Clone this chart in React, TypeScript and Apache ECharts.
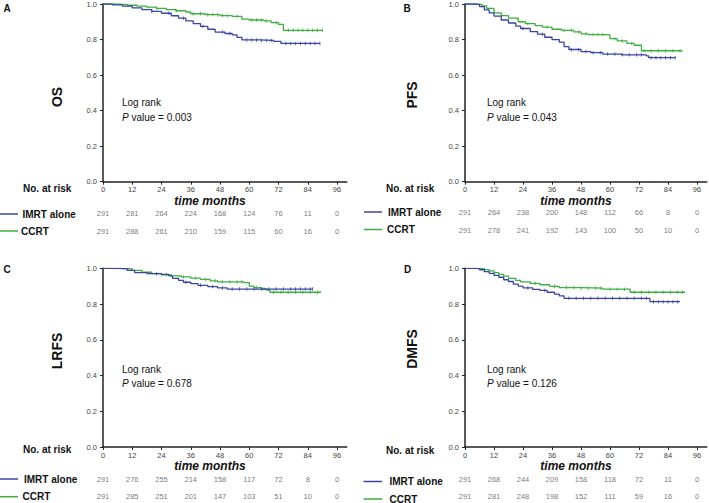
import React, { useEffect, useRef } from "react";
import * as echarts from "echarts";

const FONT = '"Liberation Sans", Arial, sans-serif';
const BLUE = "#3a45a2";
const GREEN = "#3dae3f";

// time axis ticks (months)
const months = [0, 12, 24, 36, 48, 60, 72, 84, 96];

// Kaplan-Meier step points [month, survival]
const osImrt = [[0, 1], [4, 0.995], [8, 0.988], [12, 0.978], [16, 0.968], [20, 0.958], [24, 0.948], [28, 0.934], [31, 0.92], [34, 0.905], [37, 0.89], [40, 0.874], [43, 0.858], [46, 0.842], [50, 0.834], [53, 0.826], [55, 0.812], [57, 0.798], [64, 0.795], [70, 0.79], [73, 0.778], [89, 0.778]];
const osCcrt = [[0, 1], [6, 0.997], [10, 0.993], [14, 0.988], [18, 0.982], [22, 0.975], [26, 0.968], [30, 0.962], [34, 0.955], [36, 0.945], [42, 0.94], [48, 0.935], [53, 0.93], [57, 0.915], [60, 0.91], [66, 0.905], [69, 0.895], [72, 0.885], [74, 0.852], [90, 0.852]];
const pfsImrt = [[0, 1], [4, 0.998], [6, 0.985], [8, 0.967], [10, 0.95], [12, 0.932], [15, 0.91], [18, 0.893], [21, 0.875], [23, 0.862], [27, 0.845], [30, 0.83], [33, 0.813], [36, 0.8], [39, 0.785], [41, 0.76], [43, 0.744], [48, 0.732], [52, 0.726], [57, 0.718], [65, 0.714], [75, 0.708], [76, 0.698], [87, 0.698]];
const pfsCcrt = [[0, 1], [4, 0.998], [7, 0.99], [9, 0.975], [12, 0.95], [15, 0.935], [18, 0.92], [22, 0.9], [25, 0.89], [29, 0.878], [32, 0.87], [36, 0.858], [40, 0.852], [45, 0.843], [48, 0.832], [51, 0.828], [58, 0.826], [60, 0.805], [63, 0.792], [67, 0.778], [70, 0.768], [73, 0.737], [90, 0.737]];
const lrfsImrt = [[0, 1], [6, 0.997], [10, 0.988], [13, 0.976], [18, 0.97], [24, 0.966], [27, 0.958], [28.5, 0.944], [31, 0.932], [33, 0.922], [36, 0.914], [39, 0.905], [43, 0.898], [47, 0.89], [51, 0.884], [86, 0.884]];
const lrfsCcrt = [[0, 1], [8, 0.997], [12, 0.988], [16, 0.978], [20, 0.97], [24, 0.964], [28, 0.958], [32, 0.952], [36, 0.945], [40, 0.938], [44, 0.93], [47, 0.924], [58, 0.92], [60, 0.9], [62, 0.892], [65, 0.886], [67, 0.878], [68.5, 0.866], [89.5, 0.866]];
const dmfsImrt = [[0, 1], [4, 0.998], [6, 0.992], [8, 0.981], [10, 0.972], [12, 0.96], [14, 0.95], [16, 0.936], [18, 0.926], [20, 0.912], [22, 0.9], [24, 0.89], [28, 0.882], [31, 0.876], [34, 0.866], [37, 0.856], [39, 0.846], [41, 0.832], [76.5, 0.813], [89, 0.813]];
const dmfsCcrt = [[0, 1], [5, 0.998], [8, 0.993], [10, 0.986], [12, 0.976], [14, 0.966], [16, 0.956], [18, 0.944], [21, 0.932], [23, 0.924], [27, 0.916], [31, 0.908], [35, 0.899], [39, 0.892], [48, 0.889], [57, 0.883], [68.3, 0.866], [91, 0.866]];

// censoring times (months)
const osImrtCens = [20, 27, 33, 41, 49, 52, 59, 61, 63, 65, 67, 69, 75, 77, 79, 81, 83, 85, 87, 89];
const osCcrtCens = [22, 30, 37, 40, 43, 45, 47, 49, 51, 55, 61, 63, 65, 67, 71, 76, 78, 80, 82, 84, 86, 88, 90];
const pfsImrtCens = [24, 32, 44, 47, 50, 53, 56, 59, 62, 65, 68, 71, 73, 77, 79, 81, 83, 85, 87];
const pfsCcrtCens = [26, 34, 41, 44, 47, 50, 53, 55, 57, 62, 65, 69, 74, 77, 80, 83, 86, 89];
const lrfsImrtCens = [22, 34, 40, 45, 49, 53, 56, 59, 62, 65, 68, 71, 74, 77, 79, 81, 83, 85, 86];
const lrfsCcrtCens = [26, 33, 38, 42, 46, 49, 52, 55, 57, 63, 66, 70, 73, 76, 79, 82, 85, 88];
const dmfsImrtCens = [26, 33, 43, 46, 49, 52, 55, 58, 61, 64, 67, 70, 73, 75, 78, 80, 82, 84, 86, 88];
const dmfsCcrtCens = [29, 37, 42, 45, 48, 51, 54, 56, 60, 63, 66, 70, 73, 76, 79, 82, 85, 88, 90];

// number at risk
const riskOsImrt = [291, 281, 264, 224, 168, 124, 76, 11, 0];
const riskOsCcrt = [291, 288, 261, 210, 159, 115, 60, 16, 0];
const riskPfsImrt = [291, 264, 238, 200, 148, 112, 66, 8, 0];
const riskPfsCcrt = [291, 278, 241, 192, 143, 100, 50, 10, 0];
const riskLrfsImrt = [291, 276, 255, 214, 158, 117, 72, 8, 0];
const riskLrfsCcrt = [291, 285, 251, 201, 147, 103, 51, 10, 0];
const riskDmfsImrt = [291, 268, 244, 209, 158, 118, 72, 11, 0];
const riskDmfsCcrt = [291, 281, 248, 198, 152, 111, 59, 16, 0];

const letters = ["A", "B", "C", "D"];
const endpoints = ["OS", "PFS", "LRFS", "DMFS"];
const pValues = ["0.003", "0.043", "0.678", "0.126"];
const groupNames = ["IMRT alone", "CCRT"];

const curves = [
  [osImrt, osCcrt],
  [pfsImrt, pfsCcrt],
  [lrfsImrt, lrfsCcrt],
  [dmfsImrt, dmfsCcrt],
];
const censors = [
  [osImrtCens, osCcrtCens],
  [pfsImrtCens, pfsCcrtCens],
  [lrfsImrtCens, lrfsCcrtCens],
  [dmfsImrtCens, dmfsCcrtCens],
];
const risks = [
  [riskOsImrt, riskOsCcrt],
  [riskPfsImrt, riskPfsCcrt],
  [riskLrfsImrt, riskLrfsCcrt],
  [riskDmfsImrt, riskDmfsCcrt],
];

// layout (pixels)
const LAYOUT = [
  { left: 103, top: 2.5, width: 243.75, height: 179.2, tTop: 213.3, tGap: 17.7, letter: [7, 8], yl: [57, 97], lr: [122, 102], pv: [122, 117], tm: [210, 200.5], nr: [23, 188], legLine: [0, 18], legText: [22.5, 21], legY: [214, 231] },
  { left: 465, top: 2.5, width: 241.7, height: 179.2, tTop: 212.7, tGap: 18, letter: [407, 8], yl: [412, 95], lr: [487, 102], pv: [487, 117], tm: [576, 200.5], nr: [386, 188], legLine: [364, 382], legText: [388, 387], legY: [212, 229.5] },
  { left: 103, top: 268.3, width: 243.75, height: 178.7, tTop: 479, tGap: 17.7, letter: [7, 269], yl: [57, 351], lr: [122, 369], pv: [122, 383.5], tm: [210, 465.5], nr: [23, 449.5], legLine: [0, 18], legText: [24, 22.5], legY: [479, 496.7] },
  { left: 465, top: 268.3, width: 241.7, height: 178.7, tTop: 479, tGap: 17.7, letter: [407.5, 269.5], yl: [412, 349], lr: [487, 369], pv: [487, 383.5], tm: [576, 465.5], nr: [386, 450], legLine: [363.5, 382], legText: [389.5, 389.5], legY: [481.5, 499] },
];

function sAt(curve: number[][], t: number) {
  let s = curve[0][1];
  for (const p of curve) {
    if (p[0] <= t) s = p[1];
  }
  return s;
}

function buildOption() {
  const grid: any[] = [];
  const xAxis: any[] = [];
  const yAxis: any[] = [];
  const series: any[] = [];
  const graphic: any[] = [];
  const colors = [BLUE, GREEN];

  LAYOUT.forEach((L, i) => {
    const gp = 2 * i;
    const gt = 2 * i + 1;
    grid.push({ left: L.left, top: L.top, width: L.width, height: L.height });
    grid.push({ left: L.left, top: L.tTop, width: L.width, height: L.tGap });
    xAxis.push({
      type: "value",
      gridIndex: gp,
      min: 0,
      max: 100,
      splitLine: { show: false },
      axisLine: { show: true, lineStyle: { color: "#222", width: 1.5 } },
      axisTick: { show: true, customValues: months, length: 3, lineStyle: { color: "#222", width: 1 } },
      axisLabel: { customValues: months, fontSize: 7.5, color: "#444", fontFamily: FONT, margin: 4 },
    });
    xAxis.push({ type: "value", gridIndex: gt, min: 0, max: 100, show: false });
    yAxis.push({
      type: "value",
      gridIndex: gp,
      min: 0,
      max: 1,
      interval: 0.2,
      splitLine: { show: false },
      axisLine: { show: true, lineStyle: { color: "#222", width: 1.5 } },
      axisTick: { show: true, length: 3, lineStyle: { color: "#222", width: 1 } },
      axisLabel: { formatter: (v: number) => v.toFixed(1), fontSize: 7.5, color: "#444", fontFamily: FONT, margin: 6 },
    });
    yAxis.push({ type: "value", gridIndex: gt, min: 0, max: 1, inverse: true, show: false });

    [0, 1].forEach((g) => {
      const curve = curves[i][g];
      series.push({
        type: "line",
        xAxisIndex: gp,
        yAxisIndex: gp,
        data: curve,
        step: "end",
        symbol: "none",
        silent: true,
        lineStyle: { color: colors[g], width: 1.3 },
        z: 3 - g,
      });
      series.push({
        type: "scatter",
        xAxisIndex: gp,
        yAxisIndex: gp,
        data: censors[i][g].map((t) => [t, sAt(curve, t)]),
        symbol: "rect",
        symbolSize: [1, 3.5],
        silent: true,
        itemStyle: { color: colors[g] },
        z: 3 - g,
      });
      series.push({
        type: "scatter",
        xAxisIndex: gt,
        yAxisIndex: gt,
        data: months.map((m, k) => [m, g, risks[i][g][k]]),
        symbol: "circle",
        symbolSize: 1,
        silent: true,
        itemStyle: { color: "transparent" },
        label: {
          show: true,
          position: "inside",
          formatter: (p: any) => String(p.value[2]),
          fontSize: 7.5,
          color: "#555",
          fontFamily: FONT,
        },
      });
      graphic.push({
        type: "line",
        shape: { x1: L.legLine[0], y1: L.legY[g], x2: L.legLine[1], y2: L.legY[g] },
        style: { stroke: colors[g], lineWidth: 1.5 },
        silent: true,
      });
      graphic.push({
        type: "text",
        x: L.legText[g],
        y: L.legY[g],
        style: { text: groupNames[g], font: `bold 10px ${FONT}`, fill: "#111", verticalAlign: "middle", align: "left" },
        silent: true,
      });
    });

    graphic.push({
      type: "text",
      x: L.letter[0],
      y: L.letter[1],
      style: { text: letters[i], font: `bold 10px ${FONT}`, fill: "#111", align: "center", verticalAlign: "middle" },
      silent: true,
    });
    graphic.push({
      type: "text",
      x: L.yl[0],
      y: L.yl[1],
      rotation: Math.PI / 2,
      style: { text: endpoints[i], font: `bold 14px ${FONT}`, fill: "#111", align: "center", verticalAlign: "middle" },
      silent: true,
    });
    graphic.push({
      type: "text",
      x: L.lr[0],
      y: L.lr[1],
      style: { text: "Log rank", font: `10px ${FONT}`, fill: "#111", align: "left", verticalAlign: "middle" },
      silent: true,
    });
    graphic.push({
      type: "text",
      x: L.pv[0],
      y: L.pv[1],
      style: {
        text: `{i|P} value = ${pValues[i]}`,
        font: `10px ${FONT}`,
        fill: "#111",
        align: "left",
        verticalAlign: "middle",
        rich: { i: { fontStyle: "italic", fontSize: 10, fontFamily: FONT, fill: "#111" } },
      },
      silent: true,
    });
    graphic.push({
      type: "text",
      x: L.tm[0],
      y: L.tm[1],
      style: { text: "time months", font: `italic bold 12px ${FONT}`, fill: "#111", align: "center", verticalAlign: "middle" },
      silent: true,
    });
    graphic.push({
      type: "text",
      x: L.nr[0],
      y: L.nr[1],
      style: { text: "No. at risk", font: `bold 10px ${FONT}`, fill: "#111", align: "left", verticalAlign: "middle" },
      silent: true,
    });
  });

  return {
    animation: false,
    backgroundColor: "#ffffff",
    textStyle: { fontFamily: FONT },
    grid,
    xAxis,
    yAxis,
    series,
    graphic,
  };
}

export default function App() {
  const ref = useRef<HTMLDivElement>(null);
  useEffect(() => {
    if (!ref.current) return;
    const chart = echarts.init(ref.current, null, { renderer: "svg" });
    chart.setOption(buildOption() as any);
    return () => chart.dispose();
  }, []);
  return (
    <div
      ref={ref}
      style={{ position: "fixed", left: 0, top: 0, width: 709, height: 503, background: "#fff" }}
    />
  );
}
